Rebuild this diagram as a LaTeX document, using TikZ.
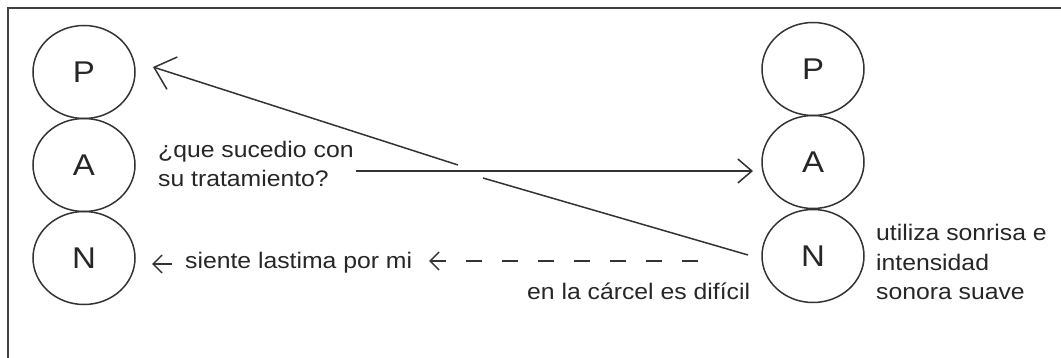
\documentclass[tikz,border=0pt]{standalone}
\usepackage{fontspec}
\setmainfont{Liberation Sans}[FakeStretch=1.1]
\usetikzlibrary{shapes.geometric,arrows.meta}
\begin{document}
\begin{tikzpicture}[x=1pt,y=-1pt,
  circ/.style={ellipse, draw=black!80, line width=1.5pt, minimum width=102pt, minimum height=93pt, inner sep=0pt, text=black!85, font=\fontsize{30}{30}\selectfont},
  lbl/.style={font=\fontsize{22.5}{29.5}\selectfont, text=black!85, inner sep=0pt, align=left, anchor=west},
  conn/.style={draw=black!80, line width=1.5pt},
  bigbarb/.style={-{Straight Barb[length=19pt,width=34pt]}},
  midbarb/.style={-{Straight Barb[length=14pt,width=24pt]}},
  smallbarb/.style={-{Straight Barb[length=9pt,width=18pt]}},
]
\useasboundingbox (0,0) rectangle (1061,358);
\draw[line width=2pt, black!75] (8,358) -- (8,8) -- (1061,8);

% left column
\node[circ] (lP) at (84,72) {P};
\node[circ] (lA) at (84,165) {A};
\node[circ] (lN) at (84,258) {N};
% right column
\node[circ] (rP) at (813,69) {P};
\node[circ] (rA) at (813,162) {A};
\node[circ] (rN) at (813,256) {N};

% labels
\node[lbl] (q) at (158,164) {¿que sucedio con\\su tratamiento?};
\node[lbl] (s) at (185,263) {siente lastima por mi};
\node[lbl] (c) at (527,291) {en la cárcel es difícil};
\node[lbl] (u) at (876,262) {utiliza sonrisa e\\intensidad\\sonora suave};

% horizontal arrow
\coordinate (h1) at (356,171);
\coordinate (h2) at (753,171);
\draw[conn, midbarb] (h1) -- (h2);

% diagonal with gap
\coordinate (d1) at (153,67);
\coordinate (d2) at (458,165);
\coordinate (d3) at (483,178);
\coordinate (d4) at (748,255);
\draw[conn, bigbarb] (d2) -- (d1);
\draw[conn] (d3) -- (d4);

% dashed arrow
\coordinate (e1) at (698,261);
\coordinate (e2) at (429,261);
\draw[conn, smallbarb, dash pattern=on 16pt off 20pt] (e1) -- (e2);

% small arrow to left N
\coordinate (f1) at (172,264);
\coordinate (f2) at (152,264);
\draw[conn, smallbarb] (f1) -- (f2);
\end{tikzpicture}
\end{document}
